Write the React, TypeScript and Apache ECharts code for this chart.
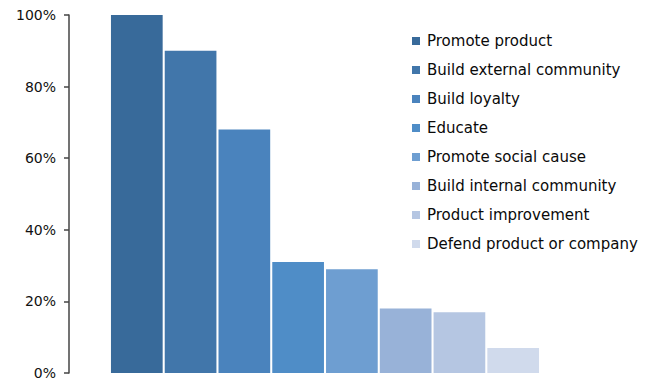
import React, { useEffect, useRef } from "react";
import * as echarts from "echarts";

const seriesNames = [
  "Promote product",
  "Build external community",
  "Build loyalty",
  "Educate",
  "Promote social cause",
  "Build internal community",
  "Product improvement",
  "Defend product or company",
];
const seriesValues = [100, 90, 68, 31, 29, 18, 17, 7];
const seriesColors = [
  "#386a9a",
  "#4176aa",
  "#4a83bd",
  "#4f8dc7",
  "#6e9ed1",
  "#98b2d8",
  "#b5c6e2",
  "#d0daec",
];
const categories = [""];
const yTicks = [0, 20, 40, 60, 80, 100];

export default function App() {
  const ref = useRef<HTMLDivElement>(null);
  useEffect(() => {
    if (!ref.current) return;
    const chart = echarts.init(ref.current, undefined, { renderer: "svg" });
    const font = "DejaVu Sans";
    chart.setOption({
      animation: false,
      backgroundColor: "#ffffff",
      grid: { left: 69, top: 15, width: 512, bottom: 12, containLabel: false },
      legend: {
        orient: "vertical",
        left: 407,
        top: 28,
        itemWidth: 8,
        itemHeight: 8,
        itemGap: 13,
        icon: "rect",
        data: seriesNames,
        textStyle: {
          fontFamily: font,
          fontSize: 15,
          color: "#0a0a0a",
          lineHeight: 16,
          padding: [0, 0, 0, 2],
        },
      },
      xAxis: {
        type: "category",
        data: categories,
        axisLine: { show: false },
        axisTick: { show: false },
        axisLabel: { show: false },
      },
      yAxis: {
        type: "value",
        min: yTicks[0],
        max: yTicks[yTicks.length - 1],
        interval: 20,
        axisLine: { show: true, lineStyle: { color: "#444", width: 1.5 } },
        axisTick: { show: true, inside: false, length: 5, lineStyle: { color: "#444", width: 1.5 } },
        splitLine: { show: false },
        axisLabel: {
          margin: 13,
          fontFamily: font,
          fontSize: 14,
          color: "#111",
          formatter: (v: number) => v + "%",
        },
      },
      series: seriesNames.map((name, i) => ({
        name,
        type: "bar",
        data: [seriesValues[i]],
        barWidth: 51.7,
        barGap: "4%",
        itemStyle: { color: seriesColors[i] },
      })),
    });
    return () => chart.dispose();
  }, []);
  return <div ref={ref} style={{ width: 646, height: 385, position: "absolute", left: 0, top: 0 }} />;
}
